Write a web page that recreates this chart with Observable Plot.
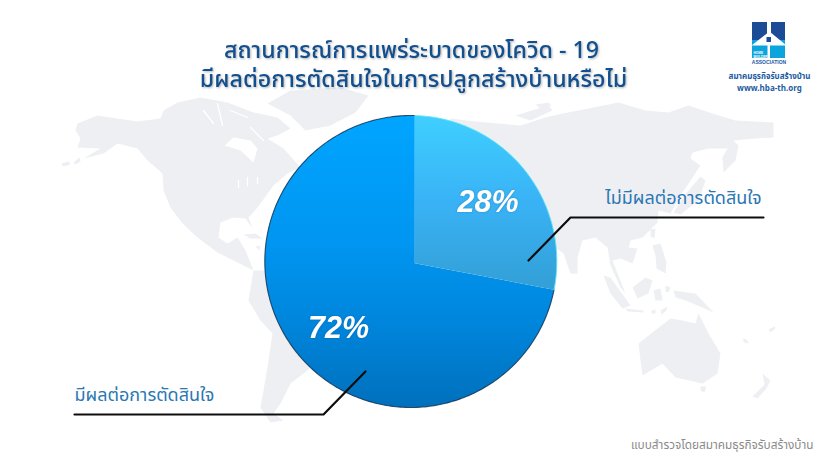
<!DOCTYPE html>
<html><head><meta charset="utf-8">
<script src="https://cdn.jsdelivr.net/npm/d3@7"></script>
<script src="https://cdn.jsdelivr.net/npm/@observablehq/plot@0.6"></script>
<style>
html,body{margin:0;padding:0;background:#fff}
.ttl{filter:drop-shadow(1px 1.5px 1px rgba(0,0,0,.3))}
.pct{filter:drop-shadow(0 0 1px rgba(0,40,90,.25))}
</style></head><body>
<script>
// data
const categories = ["ไม่มีผลต่อการตัดสินใจ", "มีผลต่อการตัดสินใจ"];
const seriesValues = [28, 72];
const valueLabels = ["28%", "72%"];
const labelX = [761, 74];
const labelY = [203, 400];
const labelPctX = [487.5, 338];
const labelPctY = [211, 337];
const leaderA = [[763,217],[570,217],[528,260]];
const leaderB = [[74,414],[323,414],[365,371]];
const titleLines = ["สถานการณ์การแพร่ระบาดของโควิด - 19", "มีผลต่อการตัดสินใจในการปลูกสร้างบ้านหรือไม่"];
const titleX = [411, 413];
const titleY = [57, 86];
const credit = "แบบสำรวจโดยสมาคมธุรกิจรับสร้างบ้าน";
const logoLines = ["สมาคมธุรกิจรับสร้างบ้าน", "www.hba-th.org"];
const logoTiny = ["HOME", "BUILDER"];

// background map outlines
const land = [
 [[77,123],[97,115],[137,121],[160,118],[163,110],[177,102],[200,97],[227,102],[253,112],[277,117],[290,128],[277,135],[267,138],[283,148],[300,167],[287,173],[273,185],[257,207],[248,217],[252,228],[245,218],[233,217],[220,222],[218,237],[227,243],[237,237],[245,250],[253,270],[247,267],[233,260],[217,252],[197,237],[182,223],[170,207],[163,190],[162,173],[147,160],[137,148],[117,143],[103,153],[83,158],[100,148],[77,147],[80,138],[75,130]],
 [[61,163],[68,161],[70,164],[63,166]],[[73,162],[79,157],[80,161],[75,164]],
 [[267,103],[290,90],[340,87],[368,95],[355,112],[330,125],[305,130],[290,115]],
 [[243,234],[255,233],[262,238],[250,238]],[[255,246],[260,245],[259,250]],
 [[253,270],[248,300],[260,320],[272,333],[267,367],[260,407],[270,422],[283,420],[273,413],[280,403],[290,383],[307,370],[340,330],[300,270]],
 [[450,118],[475,121],[520,125],[545,117],[562,113],[578,110],[618,102],[645,110],[668,112],[688,105],[712,113],[735,120],[773,122],[773,137],[755,138],[733,140],[738,145],[735,160],[723,172],[722,157],[727,148],[708,148],[692,152],[690,158],[700,165],[690,180],[680,195],[670,213],[658,210],[657,222],[642,237],[630,240],[628,247],[637,248],[632,263],[620,258],[612,260],[625,293],[620,287],[610,265],[607,247],[595,237],[582,240],[577,257],[577,273],[570,273],[563,253],[555,247],[450,240]],
 [[515,115],[548,105],[552,110],[530,120]],[[535,104],[548,102],[551,105],[540,108]],
 [[705,180],[700,176],[684,195],[673,212],[680,214],[698,200]],
 [[650,229],[655,228],[654,238],[650,236]],[[652,245],[660,243],[666,262],[665,273],[656,268],[655,255]],
 [[603,275],[610,277],[630,305],[622,308],[610,293]],[[625,308],[643,310],[643,312],[627,311]],
 [[632,287],[645,277],[652,280],[648,293],[637,298]],[[653,290],[660,288],[662,300],[655,300]],
 [[665,285],[670,287],[668,292],[665,291]],
 [[673,290],[695,293],[713,312],[702,307],[685,300],[675,297]],[[651,310],[655,309],[655,313],[651,313]],[[660,310],[667,306],[666,310],[661,314]],
 [[638,343],[652,332],[670,318],[682,320],[695,323],[698,313],[708,333],[720,353],[717,373],[702,383],[675,377],[662,363],[642,375],[640,360]],
 [[700,386],[706,386],[704,392],[700,390]],
 [[762,373],[770,380],[766,388],[757,398],[752,396],[764,384]],
 [[768,329],[774,326],[775,328],[770,332]],[[742,338],[746,339],[748,343],[744,342]]
];
const lakes = [
 [[224,145],[233,137],[250,140],[257,148],[253,162],[240,150]]
];
const channels = [
 [[203,110],[213,123]],[[217,103],[222,125]],[[230,110],[247,117]],[[250,127],[263,140]],
 [[238,180],[238,187]],[[247,177],[247,185]],[[257,177],[257,183]]
];
const logoRects = [
 {x1:752,x2:767,y1:22,y2:40,c:"#1c4c96"},{x1:771,x2:785,y1:22,y2:40,c:"#1c4c96"},
 {x1:752,x2:785,y1:40,y2:58,c:"#0ba4dc"}
];
const logoRoof = [[769,31],[786,45],[751,45]];
const logoBar = [{x1:767.5,x2:770,y1:45,y2:58,c:"#ffffff"}];
const logoWindow = [{x1:766.5,x2:771,y1:37,y2:42,c:"#1c4c96"}];

// pie geometry: the wedge vertex sits slightly off the centre of the disc
const disc = {cx:410.3, cy:261, r:146};
const vertex = {x:414.3, y:262.7};
function rim(a){
  const dx=Math.sin(a), dy=-Math.cos(a), ox=vertex.x-disc.cx, oy=vertex.y-disc.cy;
  const b=ox*dx+oy*dy, t=-b+Math.sqrt(b*b-(ox*ox+oy*oy-disc.r*disc.r));
  return [vertex.x+t*dx, vertex.y+t*dy];
}
const arcs = d3.pie().sort(null)(seriesValues);
const slicePts = arcs.map(s=>{
  const n=Math.ceil((s.endAngle-s.startAngle)*60), pts=[[vertex.x,vertex.y]];
  for(let i=0;i<=n;i++) pts.push(rim(s.startAngle+(s.endAngle-s.startAngle)*i/n));
  return pts;
});
const rimOnly = p=>p.slice(1);
const fam = "'Noto Sans Thai','Noto Sans','Open Sans',sans-serif";
const X=d=>d[0], Y=d=>d[1];

const defs = () => {
  const s=d3.create("svg:defs");
  const g=(id,stops)=>{const l=s.append("linearGradient").attr("id",id).attr("x1",0).attr("x2",0).attr("y1",0).attr("y2",1);
    stops.forEach(([o,c])=>l.append("stop").attr("offset",o).attr("stop-color",c));};
  g("gLight",[[0,"#3fcfff"],[.5,"#39b2f5"],[1,"#339fd6"]]);
  g("gDark",[[0,"#00a5ff"],[.45,"#0095f0"],[.72,"#0085db"],[1,"#0070bc"]]);
  return s.node();
};
const rects = (data)=>Plot.rect(data,{x1:"x1",x2:"x2",y1:"y1",y2:"y2",fill:d=>d.c});

const chart = Plot.plot({
  width:835, height:468, margin:0,
  x:{domain:[0,835], range:[0,835], axis:null},
  y:{domain:[0,468], range:[0,468], axis:null},
  color:{type:"identity"},
  style:{background:"transparent"},
  marks:[
    defs,
    ...land.map(p=>Plot.line(p,{x:X,y:Y,fill:"#eeeff3",stroke:"none",curve:"linear-closed"})),
    ...lakes.map(p=>Plot.line(p,{x:X,y:Y,fill:"#ffffff",stroke:"none",curve:"linear-closed"})),
    ...channels.map(p=>Plot.line(p,{x:X,y:Y,stroke:"#ffffff",strokeWidth:1.3,curve:"linear"})),
    Plot.line(slicePts[1],{x:X,y:Y,fill:"url(#gDark)",stroke:"none",curve:"linear-closed"}),
    Plot.line(slicePts[0],{x:X,y:Y,fill:"url(#gLight)",stroke:"none",curve:"linear-closed"}),
    Plot.line(rimOnly(slicePts[1]),{x:X,y:Y,stroke:"#0c2c4c",strokeWidth:1.1,strokeOpacity:.8}),
    Plot.line(rimOnly(slicePts[0]),{x:X,y:Y,stroke:"#5fe4f2",strokeWidth:1,strokeOpacity:.9}),
    Plot.line(leaderA,{x:X,y:Y,stroke:"#0d0d0d",strokeWidth:2.2,curve:"linear"}),
    Plot.line(leaderB,{x:X,y:Y,stroke:"#0d0d0d",strokeWidth:2.2,curve:"linear"}),
    Plot.text(titleLines,{x:(d,i)=>titleX[i],y:(d,i)=>titleY[i],text:d=>d,fontFamily:fam,fontSize:23.2,fontWeight:500,fill:"#124f8f",className:"ttl",lineAnchor:"bottom"}),
    Plot.text(categories,{x:(d,i)=>labelX[i],y:(d,i)=>labelY[i],text:d=>d,textAnchor:"start",fontFamily:fam,fontSize:18,fill:"#2a77b3",lineAnchor:"bottom",filter:(d,i)=>i===1}),
    Plot.text(categories,{x:(d,i)=>labelX[i],y:(d,i)=>labelY[i],text:d=>d,textAnchor:"end",fontFamily:fam,fontSize:18,fill:"#2a77b3",lineAnchor:"bottom",filter:(d,i)=>i===0}),
    Plot.text(valueLabels,{x:(d,i)=>labelPctX[i],y:(d,i)=>labelPctY[i],text:d=>d,fontFamily:"'Liberation Sans',Arial,sans-serif",fontSize:30.5,fontWeight:700,fontStyle:"italic",fill:"#fff",className:"pct",lineAnchor:"bottom"}),
    Plot.text([credit],{x:()=>813,y:()=>448,text:d=>d,textAnchor:"end",fontFamily:fam,fontSize:11.8,fill:"#8a8a8a",lineAnchor:"bottom"}),
    rects(logoRects),
    Plot.line(logoRoof,{x:X,y:Y,fill:"#ffffff",stroke:"none",curve:"linear-closed"}),
    rects(logoBar),
    rects(logoWindow),
    Plot.text(logoTiny,{x:()=>753,y:(d,i)=>[53,57][i],text:d=>d,textAnchor:"start",fontFamily:"'Liberation Sans',sans-serif",fontSize:3.2,fontWeight:700,fill:"#ffffff",lineAnchor:"bottom"}),
    Plot.text(["ASSOCIATION"],{x:()=>768.5,y:()=>63,text:d=>d,fontFamily:"'Liberation Sans',sans-serif",fontSize:5,fontWeight:700,fill:"#1c5aa6",lineAnchor:"bottom"}),
    Plot.text(logoLines,{x:()=>769,y:(d,i)=>[78,90][i],text:d=>d,fontFamily:fam,fontSize:8,fontWeight:700,fill:"#1d5aa0",lineAnchor:"bottom"})
  ]
});
document.body.appendChild(chart);
</script>
</body></html>
